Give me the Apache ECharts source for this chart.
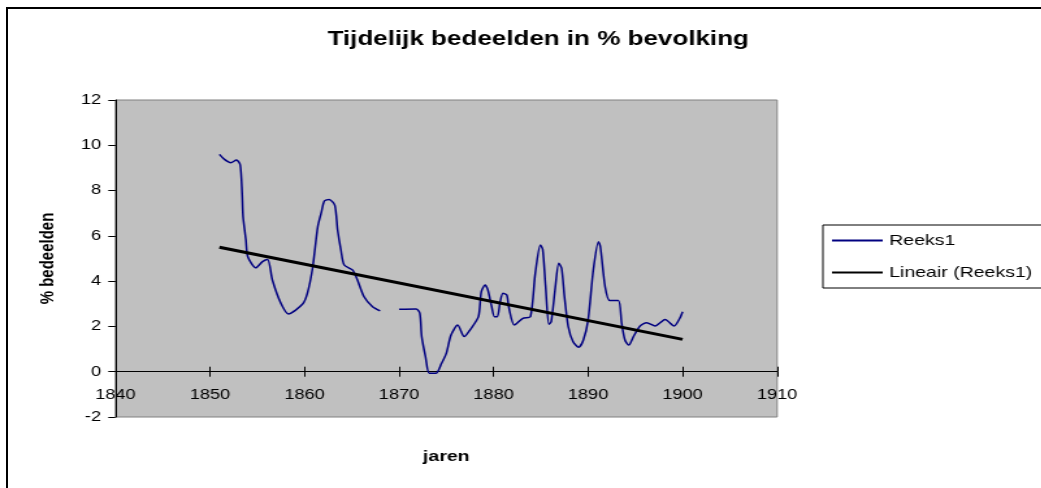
<!DOCTYPE html>
<html>
<head>
<meta charset="utf-8">
<script src="https://cdn.jsdelivr.net/npm/echarts@6/dist/echarts.min.js"></script>
<style>
html, body { margin: 0; padding: 0; background: #ffffff; overflow: hidden; }
#frame { position: absolute; left: 6px; top: 7px; width: 1100px; height: 600px; border: 2px solid #000; box-sizing: border-box; }
#chart { position: absolute; left: 0; top: 0; width: 801px; height: 488px; transform: scaleX(1.3); transform-origin: 0 0; }
</style>
</head>
<body>
<div id="frame"></div>
<div id="chart"></div>
<script>
// ---- data ----
const titleText = 'Tijdelijk bedeelden in % bevolking';
const xName = 'jaren';
const yName = '% bedeelden';
const seriesName = 'Reeks1';
const trendName = 'Lineair (Reeks1)';
const years = [
  1851.0, 1851.5, 1852.2, 1852.8, 1853.2, 1853.4, 1853.5, 1853.8, 1854.0, 1854.85,
  1855.55, 1856.1, 1856.6, 1857.5, 1858.3, 1859.8, 1860.3, 1860.85, 1861.4, 1861.8,
  1862.1, 1862.6, 1863.2, 1863.5, 1863.85, 1864.2, 1865.1, 1865.6, 1866.3, 1867.2,
  1868.0, 1869.0,
  1870.0, 1871.8, 1872.2, 1872.4, 1872.8, 1873.2, 1873.9, 1874.5, 1875.0, 1875.5,
  1876.2, 1876.9, 1877.5, 1878.4, 1878.7, 1879.1, 1879.4, 1879.8, 1880.1, 1880.4,
  1880.7, 1881.0, 1881.4, 1881.6, 1882.2, 1883.1, 1883.9, 1884.4, 1884.95, 1885.2,
  1885.5, 1885.85, 1886.1, 1886.5, 1886.9, 1887.2, 1887.5, 1887.9, 1888.4, 1889.0,
  1889.5, 1890.0, 1890.55, 1891.1, 1891.3, 1891.8, 1892.3, 1893.2, 1893.55, 1893.9,
  1894.3, 1894.8, 1895.5, 1896.2, 1897.1, 1898.15, 1899.1, 1899.7, 1900.0
];
const values = [
  9.60, 9.39, 9.23, 9.35, 9.13, 7.88, 6.85, 5.82, 5.08, 4.59,
  4.86, 4.96, 4.05, 3.02, 2.55, 2.99, 3.46, 4.57, 6.40, 7.07,
  7.54, 7.61, 7.36, 6.26, 5.38, 4.71, 4.49, 4.05, 3.31, 2.87,
  2.69, null,
  2.76, 2.77, 2.58, 1.55, 0.66, -0.07, -0.07, 0.37, 0.81, 1.62,
  2.06, 1.55, 1.84, 2.43, 3.53, 3.83, 3.61, 2.87, 2.43, 2.43,
  3.09, 3.46, 3.39, 2.87, 2.06, 2.36, 2.43, 4.30, 5.60, 5.40,
  3.80, 2.10, 2.21, 3.61, 4.79, 4.57, 3.31, 1.99, 1.33, 1.08,
  1.40, 2.28, 4.49, 5.74, 5.52, 3.75, 3.14, 3.14, 2.14, 1.40,
  1.18, 1.55, 2.02, 2.16, 2.02, 2.31, 2.02, 2.36, 2.65
];
const trendYears = [1851, 1900];
const trendValues = [5.50, 1.43];
const xMin = 1840, xMax = 1910, xStep = 10;
const yMin = -2, yMax = 12, yStep = 2;

// ---- chart ----
const chart = echarts.init(document.getElementById('chart'), null, { renderer: 'canvas' });
const font = 'Arial, "Liberation Sans", sans-serif';
const lineData = years.map((y, i) => [y, values[i]]);
const trendData = trendYears.map((y, i) => [y, trendValues[i]]);

const gLeft = 88.8, gTop = 100, gW = 509, gH = 317;
// upper grid spans the part of the plot above value 0, so its bottom edge is the zero line
const gHUpper = gH * (yMax - 0) / (yMax - yMin);

chart.setOption({
  animation: false,
  backgroundColor: 'transparent',
  title: {
    text: titleText,
    left: 409, top: 24, textAlign: 'center',
    textStyle: { fontFamily: font, fontSize: 20, fontWeight: 'bold', color: '#000' }
  },
  legend: {
    orient: 'vertical',
    left: 633, top: 225,
    padding: [8, 15, 8, 6],
    borderColor: '#000', borderWidth: 1,
    backgroundColor: '#fff',
    itemWidth: 39, itemHeight: 14, itemGap: 17,
    itemStyle: { opacity: 0 },
    textStyle: { fontFamily: font, fontSize: 15, color: '#000' },
    data: [{ name: seriesName }, { name: trendName }]
  },
  grid: [
    { left: gLeft, top: gTop, width: gW, height: gH, outerBoundsMode: 'none', containLabel: false,
      show: true, backgroundColor: '#c0c0c0', borderColor: '#808080', borderWidth: 1 },
    { left: gLeft, top: gTop, width: gW, height: gHUpper, outerBoundsMode: 'none', containLabel: false, show: false },
    { left: gLeft, top: gTop, width: gW, height: gHUpper, outerBoundsMode: 'none', containLabel: false, show: false }
  ],
  xAxis: [{
    gridIndex: 0, type: 'value', min: xMin, max: xMax, interval: xStep, show: false
  }, {
    gridIndex: 1, type: 'value', min: xMin, max: xMax, interval: xStep, position: 'bottom',
    name: xName, nameLocation: 'middle', nameGap: 78,
    nameTextStyle: { fontFamily: font, fontSize: 15, fontWeight: 'bold', color: '#000' },
    axisLine: { show: true, onZero: false, lineStyle: { color: '#000', width: 1 } },
    axisTick: { show: true, length: 5, lineStyle: { color: '#000' } },
    axisLabel: { fontFamily: font, fontSize: 14, color: '#000', margin: 16, formatter: v => String(v) },
    splitLine: { show: false }
  }, {
    gridIndex: 2, type: 'value', min: xMin, max: xMax, interval: xStep, position: 'bottom',
    axisLine: { show: false, onZero: false },
    axisTick: { show: true, inside: true, length: 5, lineStyle: { color: '#000' } },
    axisLabel: { show: false },
    splitLine: { show: false }
  }],
  yAxis: [{
    gridIndex: 0, type: 'value', min: yMin, max: yMax, interval: yStep,
    name: yName, nameLocation: 'middle', nameGap: 44, nameRotate: 90,
    nameTextStyle: { fontFamily: font, fontSize: 15, fontWeight: 'bold', color: '#000' },
    axisLine: { show: true, onZero: false, lineStyle: { color: '#000', width: 1 } },
    axisTick: { show: true, length: 5.5, lineStyle: { color: '#000' } },
    axisLabel: { fontFamily: font, fontSize: 14, color: '#000', margin: 11 },
    splitLine: { show: false }
  }, {
    gridIndex: 1, type: 'value', min: 0, max: yMax, show: false
  }, {
    gridIndex: 2, type: 'value', min: 0, max: yMax, show: false
  }],
  series: [{
    name: seriesName, type: 'line', data: lineData, xAxisIndex: 0, yAxisIndex: 0,
    smooth: 0.25, symbol: 'none', connectNulls: false,
    lineStyle: { color: '#000080', width: 1.5 }, itemStyle: { color: '#000080' }
  }, {
    name: trendName, type: 'line', data: trendData, xAxisIndex: 0, yAxisIndex: 0,
    symbol: 'none',
    lineStyle: { color: '#000', width: 3 }, itemStyle: { color: '#000' }
  }]
});
</script>
</body>
</html>
